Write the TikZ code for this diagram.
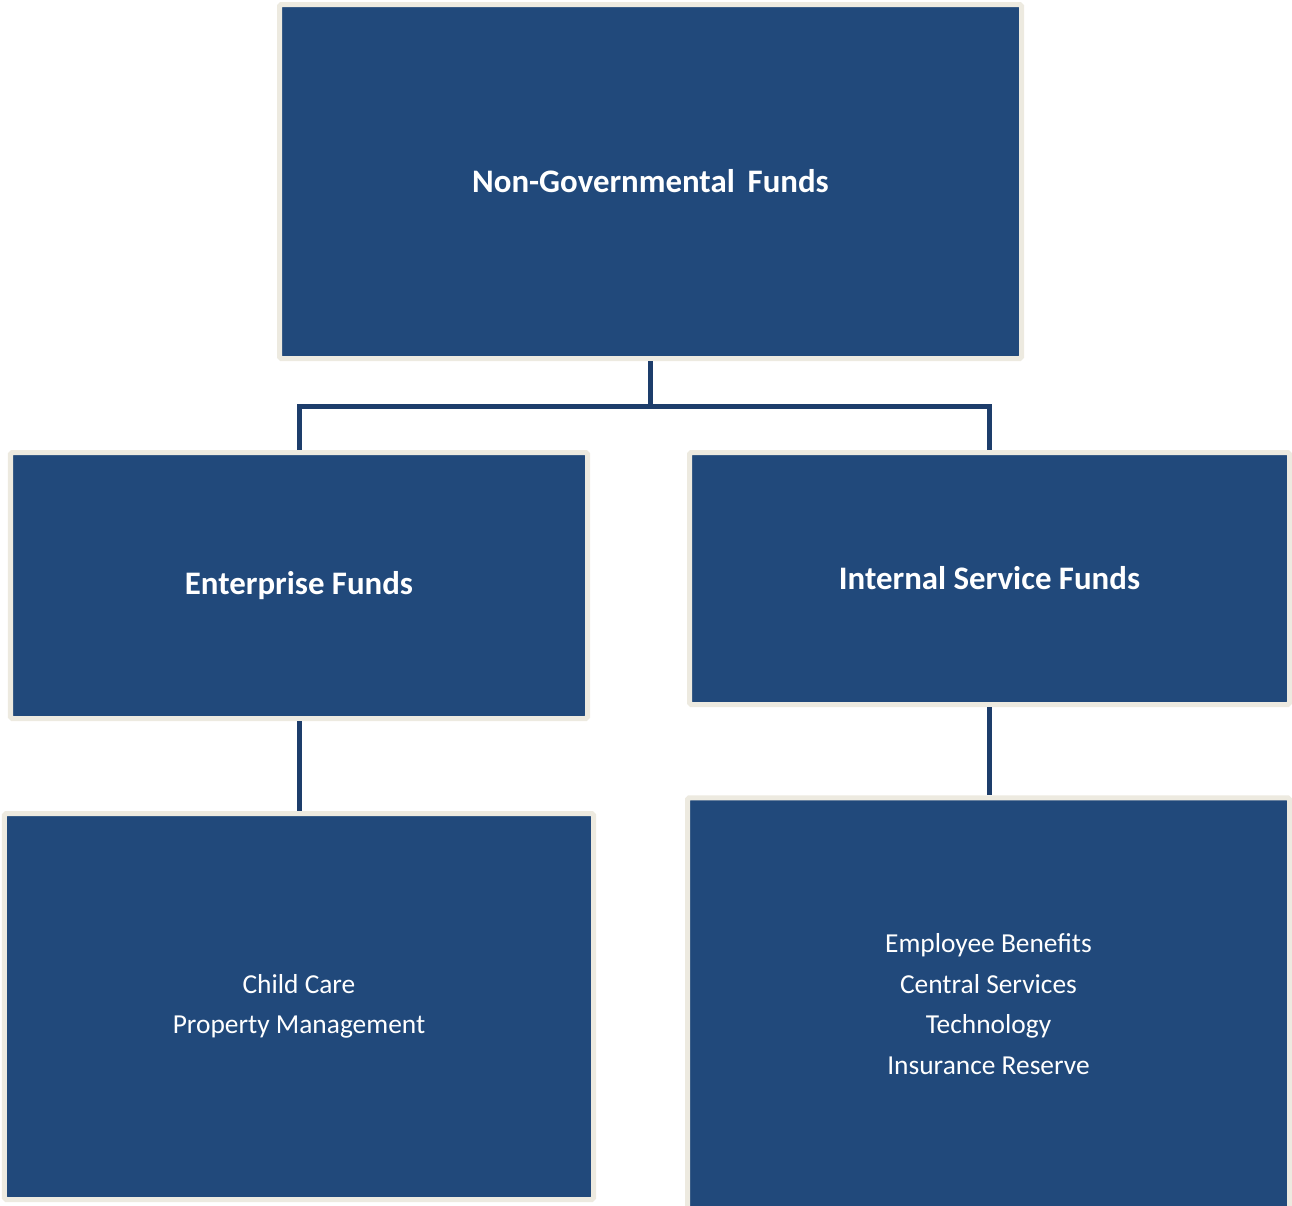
\documentclass[tikz,border=0pt]{standalone}
\usepackage{fontspec}
\setmainfont{Carlito}
\usetikzlibrary{positioning}
\definecolor{fundblue}{HTML}{21497B}
\definecolor{fundrim}{HTML}{EDEAE0}
\definecolor{linkblue}{HTML}{1D3D6B}

\begin{document}
\begin{tikzpicture}[
    fund/.style={rectangle, rounded corners=1pt, draw=fundrim, line width=0.1cm, fill=fundblue, text=white, align=center, inner sep=0pt},
    head/.style={fund, font=\fontsize{18.7}{22}\selectfont\bfseries},
    list/.style={fund, font=\fontsize{15.6}{23}\selectfont},
    link/.style={draw=linkblue, line width=0.1cm}
]
\useasboundingbox (0,0) rectangle (25.84,-24.1);

% Top box
\node (nongov) [head, minimum width=14.84cm, minimum height=7.08cm] at (13.01,-3.63) {Non-Governmental\, Funds};

% Fund types
\node (enter) [head, minimum width=11.54cm, minimum height=5.32cm] at (5.98,-11.71) {Enterprise Funds};
\node (intern) [head, minimum width=12.0cm, minimum height=5.04cm] at (19.79,-11.57) {Internal Service Funds};

% Fund lists
\node (enterlist) [list, minimum width=11.78cm, minimum height=7.72cm] at (5.98,-20.13) {Child Care\\Property Management};
\node (internlist) [list, minimum width=12.04cm, minimum height=8.25cm] at (19.77,-20.08) {Employee Benefits\\Central Services\\Technology\\Insurance Reserve};

% Links
\coordinate (split) at ([yshift=-0.9cm]nongov.south);
\draw [link] (nongov.south) -- (split);
\draw [link] (split) -| (enter.north);
\draw [link] (split) -| (intern.north);
\draw [link] (enter.south) -- (enterlist.north);
\draw [link] (intern.south) -- (intern.south |- internlist.north);

\end{tikzpicture}
\end{document}
